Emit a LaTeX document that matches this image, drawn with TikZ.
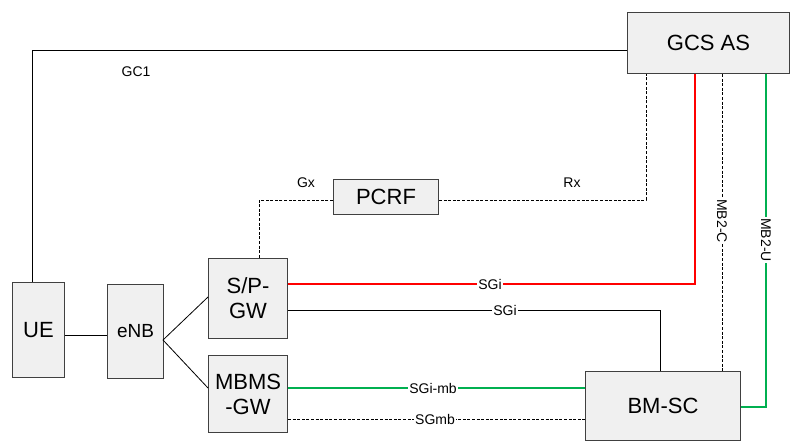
\documentclass[tikz,border=0pt]{standalone}
\usepackage{fontspec}
\setmainfont{Liberation Sans}
\definecolor{boxfill}{HTML}{F0F0F0}
\definecolor{boxdraw}{HTML}{404040}
\definecolor{lgreen}{HTML}{00B050}
\definecolor{lred}{HTML}{FF0000}
\begin{document}
\begin{tikzpicture}[x=1pt,y=-1pt,
  box/.style={draw=boxdraw,fill=boxfill,line width=1pt,anchor=north west,inner sep=0pt,align=center,font=\fontsize{22}{25}\selectfont},
  conn/.style={line width=0.8pt,black},
  dconn/.style={line width=0.9pt,black,dash pattern=on 3pt off 1.6pt},
  rconn/.style={line width=1.8pt,lred},
  gconn/.style={line width=1.8pt,lgreen},
  lbl/.style={fill=white,inner sep=1pt,font=\fontsize{14}{16}\selectfont},
  plbl/.style={inner sep=1pt,font=\fontsize{14}{16}\selectfont}]
\useasboundingbox (0,0) rectangle (790,441);
\fill[white] (0,0) rectangle (790,441);
% nodes
\node[box,minimum width=162pt,minimum height=61pt] (gcs) at (627,12) {GCS AS};
\node[box,minimum width=105pt,minimum height=35pt] (pcrf) at (333,179) {PCRF};
\node[box,minimum width=52pt,minimum height=95pt] (ue) at (12,282) {UE};
\node[box,minimum width=56pt,minimum height=94pt,font=\fontsize{19}{22}\selectfont] (enb) at (107,284) {eNB};
\node[box,minimum width=79pt,minimum height=80pt] (spgw) at (208,258) {S/P-\\GW};
\node[box,minimum width=79pt,minimum height=77pt] (mbms) at (208,355) {MBMS\\-GW};
\node[box,minimum width=155pt,minimum height=69pt] (bmsc) at (585,371) {BM-SC};
% helper coordinates
\coordinate (gc1c) at (32,50);
\coordinate (gxc) at (259,200);
\coordinate (rxc) at (646,200);
\coordinate (sgired) at (695,284);
\coordinate (sgiblk) at (660,310);
\coordinate (mb2c) at (722,0);
\coordinate (mb2u) at (766,407);
\coordinate (enbout) at (163,340);
% connectors
\draw[conn] (gcs.west |- gc1c) -- (gc1c) -- (gc1c |- ue.north);
\node[plbl] (gc1) at (136,72) {GC1};
\draw[conn] (ue.east |- 0,335) -- (enb.west |- 0,335);
\draw[conn] (enbout) -- (spgw.west |- 0,297);
\draw[conn] (enbout) -- (mbms.west |- 0,388);
\draw[dconn] (pcrf.west |- gxc) -- (gxc) -- (gxc |- spgw.north);
\node[plbl] (gx) at (306,183) {Gx};
\draw[dconn] (pcrf.east |- rxc) -- (rxc) -- (rxc |- gcs.south);
\node[plbl] (rx) at (572,183) {Rx};
\draw[rconn] (spgw.east |- sgired) -- (sgired) -- (sgired |- gcs.south);
\node[lbl] (sgi1) at (490,284) {SGi};
\draw[conn] (spgw.east |- sgiblk) -- (sgiblk) -- (sgiblk |- bmsc.north);
\node[lbl] (sgi2) at (505,310) {SGi};
\draw[dconn] (mb2c |- gcs.south) -- (mb2c |- bmsc.north);
\node[lbl,rotate=-90] (mb2cl) at (722,221) {MB2-C};
\draw[gconn] (mb2u |- gcs.south) -- (mb2u) -- (bmsc.east |- mb2u);
\node[lbl,rotate=-90] (mb2ul) at (766,240) {MB2-U};
\draw[gconn] (mbms.east |- 0,388) -- (bmsc.west |- 0,388);
\node[lbl] (sgimb) at (433,388) {SGi-mb};
\draw[dconn] (mbms.east |- 0,419) -- (bmsc.west |- 0,419);
\node[lbl] (sgmb) at (435,419) {SGmb};
\end{tikzpicture}
\end{document}
